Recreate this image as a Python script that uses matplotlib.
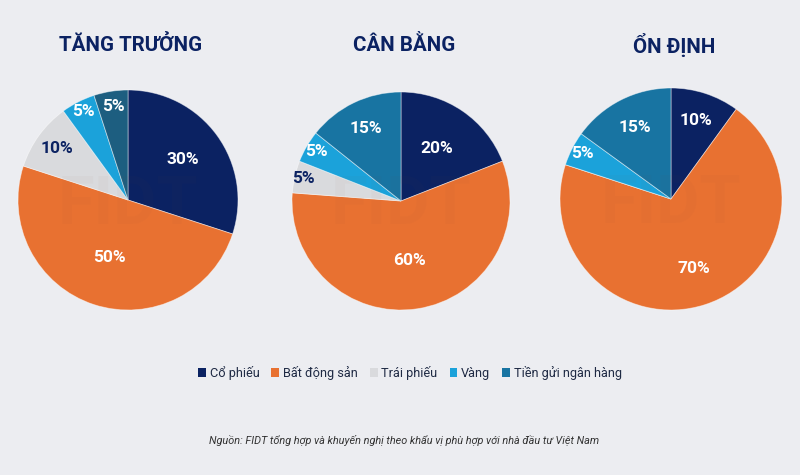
import matplotlib
matplotlib.use("Agg")
import matplotlib.pyplot as plt
import numpy as np
from matplotlib.patches import Patch

categories = ["Cổ phiếu", "Bất động sản", "Trái phiếu", "Vàng", "Tiền gửi ngân hàng"]
titles = ["TĂNG TRƯỞNG", "CÂN BẰNG", "ỔN ĐỊNH"]
values_tang_truong = [30, 50, 10, 5, 5]
values_can_bang = [20, 60, 5, 5, 15]
values_on_dinh = [10, 70, 0, 5, 15]
source_text = "Nguồn: FIDT tổng hợp và khuyến nghị theo khẩu vị phù hợp với nhà đầu tư Việt Nam"

colors = ["#0B2262", "#E87131", "#D9DADD", "#1BA2DA", "#1874A2"]
left_colors = ["#0B2262", "#E87131", "#D9DADD", "#1BA2DA", "#1D5E80"]
label_colors = ["white", "white", "#0B2262", "white", "white"]
bg = "#ECEDF1"
navy = "#0B2262"

plt.rcParams['font.family'] = ['Roboto', 'DejaVu Sans']

fig = plt.figure(figsize=(8, 4.75), dpi=100, facecolor=bg)

# pie geometry in pixels: (cx, cy, r)
geoms = [(128, 200, 110), (401, 201, 109), (671, 199, 111)]
label_dists = [
    [0.62, 0.55, 0.80, 0.90, 0.86],
    [0.58, 0.55, 0.92, 0.90, 0.74],
    [0.74, 0.66, 0.0, 0.90, 0.72],
]
all_values = [values_tang_truong, values_can_bang, values_on_dinh]
W, H = 800, 475

for i, (vals, (cx, cy, r)) in enumerate(zip(all_values, geoms)):
    ax = fig.add_axes([(cx - r) / W, (H - cy - r) / H, 2 * r / W, 2 * r / H])
    ax.set_facecolor(bg)
    cols = left_colors if i == 0 else colors
    wedges, _ = ax.pie(vals, colors=cols, startangle=90, counterclock=False,
                       wedgeprops=dict(edgecolor=(1, 1, 1, 0.5), linewidth=0.6))
    ax.set_xlim(-1, 1)
    ax.set_ylim(-1, 1)
    ax.set_aspect('equal')
    ax.axis('off')
    for j, (w, v) in enumerate(zip(wedges, vals)):
        if v == 0:
            continue
        ang = np.deg2rad((w.theta1 + w.theta2) / 2)
        d = label_dists[i][j]
        ax.text(d * np.cos(ang), d * np.sin(ang), f"{v}%", ha='center', va='center',
                color=label_colors[j], fontsize=12.5, fontweight='bold')
    # faint watermark
    ax.text(0, -0.05, "FIDT", ha='center', va='center', fontsize=48, fontweight='bold',
            color=(0.5, 0.3, 0.2, 0.03), zorder=5)
    fig.text((cx + 3) / W, 1 - 45 / H, titles[i], ha='center', va='center',
             fontsize=14.8, fontweight='bold', color=navy)

handles = [Patch(facecolor=c, edgecolor='none', label=l) for c, l in zip(colors, categories)]
fig.legend(handles=handles, loc='center', bbox_to_anchor=(410 / W, 1 - 373 / H), ncol=5,
           frameon=False, fontsize=9.2, handlelength=0.6, handleheight=0.6,
           handletextpad=0.3, columnspacing=0.95, labelcolor='#1F2A44')

fig.text(404 / W, 1 - 441 / H, source_text, ha='center', va='center', fontsize=7.8,
         style='italic', color='#333333')

fig.savefig("out.png", dpi=100, facecolor=bg)
